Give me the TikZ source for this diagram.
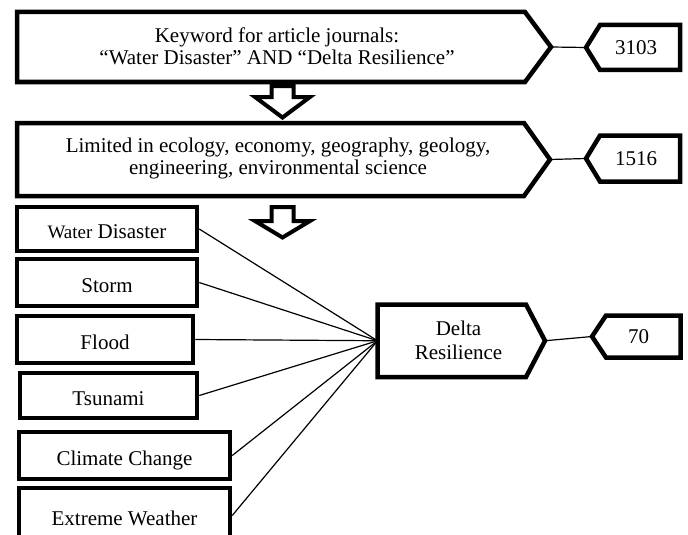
\documentclass[tikz,border=0pt]{standalone}
\usepackage{fontspec}
\setmainfont{Liberation Serif}
\usetikzlibrary{calc}
\begin{document}
\begin{tikzpicture}[x=1pt,y=-1pt,
  box/.style={draw=black, line width=4.5pt, line join=miter},
  body/.style={draw=none, inner sep=0pt, outer sep=0pt},
  txt/.style={align=center, inner sep=0pt, font=\fontsize{21}{22}\selectfont},
  leaf/.style={draw=black, line width=4.5pt, inner sep=0pt, text height=21pt, text depth=2pt, font=\fontsize{21}{23.5}\selectfont},
  link/.style={line width=1.2pt},
  hollow/.style={draw=black, line width=4pt, fill=white, line join=miter}]
\useasboundingbox (0,0) rectangle (688,535);

% first stage
\node[body, minimum width=508pt, minimum height=70pt] (k1) at (271,47) {};
\coordinate (k1tip) at ($(k1.east)+(26,0)$);
\draw[box] (k1.north west) -- (k1.north east) -- (k1tip) -- (k1.south east) -- (k1.south west) -- cycle;
\node[txt] (k1t) at (277,46) {Keyword for article journals:\\“Water Disaster” AND “Delta Resilience”};

\node[body, minimum width=80pt, minimum height=45pt] (c1) at (640,47.5) {};
\coordinate (c1tip) at ($(c1.west)+(-14,0)$);
\draw[box] (c1.north west) -- (c1.north east) -- (c1.south east) -- (c1.south west) -- (c1tip) -- cycle;
\node[txt] (c1t) at (636,47.5) {3103};
\draw[link] (k1tip) -- (c1tip);

% second stage
\node[body, minimum width=507pt, minimum height=73pt] (k2) at (270.5,159.5) {};
\coordinate (k2tip) at ($(k2.east)+(26,0)$);
\draw[box] (k2.north west) -- (k2.north east) -- (k2tip) -- (k2.south east) -- (k2.south west) -- cycle;
\node[txt] (k2t) at (278,158.5) {Limited in ecology, economy, geography, geology,\\engineering, environmental science};

\node[body, minimum width=80pt, minimum height=46pt] (c2) at (640,158.5) {};
\coordinate (c2tip) at ($(c2.west)+(-14,0)$);
\draw[box] (c2.north west) -- (c2.north east) -- (c2.south east) -- (c2.south west) -- (c2tip) -- cycle;
\node[txt] (c2t) at (636,158.5) {1516};
\draw[link] (k2tip) -- (c2tip);

% hollow arrows
\draw[hollow, shift={(282.5,86)}] (-11,0) -- (11,0) -- (11,11) -- (27.5,11) -- (0,31.5) -- (-27.5,11) -- (-11,11) -- cycle;
\draw[hollow, shift={(282.5,207)}] (-11,0) -- (11,0) -- (11,14) -- (27.5,14) -- (0,30.5) -- (-27.5,14) -- (-11,14) -- cycle;

% left boxes
\node[leaf, minimum width=180pt, minimum height=44pt] (wd) at (107,229) {{\fontsize{19}{23}\selectfont Water} Disaster};
\node[leaf, minimum width=180pt, minimum height=47pt] (st) at (107,282.5) {Storm};
\node[leaf, minimum width=176pt, minimum height=47pt] (fl) at (105,339.5) {Flood};
\node[leaf, minimum width=177pt, minimum height=45pt] (ts) at (108.5,395.5) {Tsunami};
\node[leaf, minimum width=211pt, minimum height=47pt] (cc) at (124.5,455.5) {Climate Change};
\node[leaf, minimum width=211pt, minimum height=55pt] (ew) at (124.5,515.5) {Extreme Weather};

% delta resilience
\node[body, minimum width=148.5pt, minimum height=72.5pt] (dr) at (451.75,340.75) {};
\coordinate (drtip) at ($(dr.east)+(19,0)$);
\draw[box] (dr.north west) -- (dr.north east) -- (drtip) -- (dr.south east) -- (dr.south west) -- cycle;
\node[txt, font=\fontsize{21}{24}\selectfont] (drt) at (458.5,340) {Delta\\Resilience};

\node[body, minimum width=74.5pt, minimum height=42pt] (c3) at (643.25,336.5) {};
\coordinate (c3tip) at ($(c3.west)+(-14,0)$);
\draw[box] (c3.north west) -- (c3.north east) -- (c3.south east) -- (c3.south west) -- (c3tip) -- cycle;
\node[txt] (c3t) at (638.5,336.5) {70};
\draw[link] (drtip) -- (c3tip);

% connectors
\foreach \n in {wd,st,fl,ts,cc,ew} \draw[link] (\n.east) -- (dr.west);
\end{tikzpicture}
\end{document}
